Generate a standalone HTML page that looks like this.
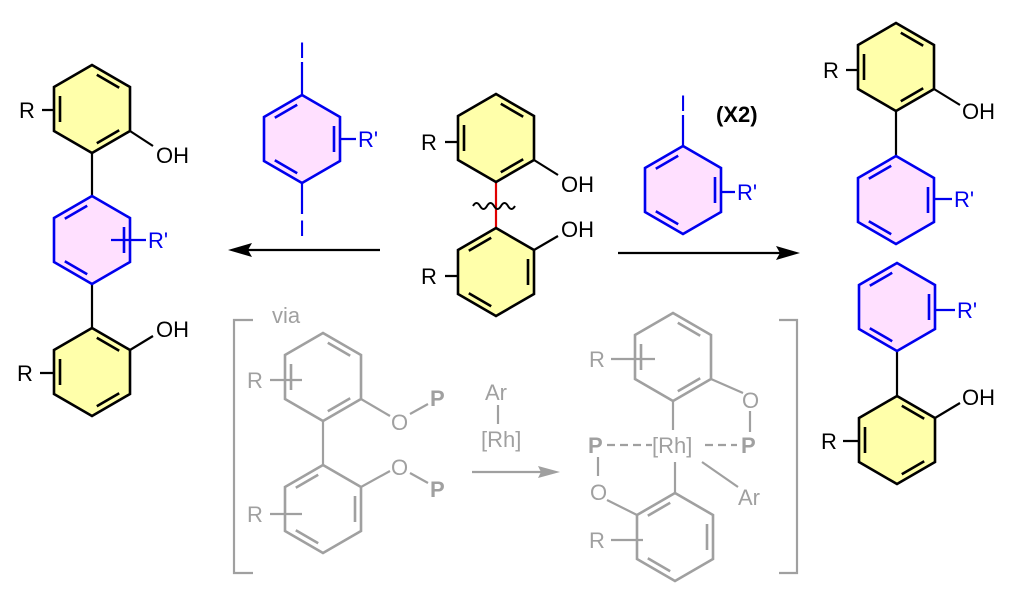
<!DOCTYPE html>
<html><head><meta charset="utf-8"><style>
html,body{margin:0;padding:0;background:#fff;}
svg{display:block;}
text{font-family:"Liberation Sans",sans-serif;font-size:22px;}
</style></head><body>
<svg width="1024" height="605" viewBox="0 0 1024 605" xmlns="http://www.w3.org/2000/svg">
<defs>
<path id="hex" d="M0,-44 L38,-22 L38,22 L0,44 L-38,22 L-38,-22Z"/>
<path id="inA" d="M4.8,-34.2 L27.2,-21.3 M27.2,21.3 L4.8,34.2 M-32,13 L-32,-13" fill="none"/>
<path id="inB" d="M32,-13 L32,13 M-4.8,34.2 L-27.2,21.3 M-27.2,-21.3 L-4.8,-34.2" fill="none"/>
<g id="yA"><use href="#hex" fill="#ffffaa" stroke="#000" stroke-width="2.6"/><use href="#inA" stroke="#000" stroke-width="2.6"/></g>
<g id="yB"><use href="#hex" fill="#ffffaa" stroke="#000" stroke-width="2.6"/><use href="#inB" stroke="#000" stroke-width="2.6"/></g>
<g id="bB"><use href="#hex" fill="#ffe0ff" stroke="#0000ee" stroke-width="2.6"/><use href="#inB" stroke="#0000ee" stroke-width="2.6"/></g>
<g id="gA"><use href="#hex" fill="none" stroke="#a0a0a0" stroke-width="2.6"/><use href="#inA" stroke="#a0a0a0" stroke-width="2.6"/></g>
<g id="gB"><use href="#hex" fill="none" stroke="#a0a0a0" stroke-width="2.6"/><use href="#inB" stroke="#a0a0a0" stroke-width="2.6"/></g>
</defs>

<!-- Left product -->
<g stroke="#000" stroke-width="2.2">
<line x1="92" y1="153" x2="92" y2="196"/><line x1="92" y1="284" x2="92" y2="328"/>
<line x1="130" y1="131" x2="153" y2="146"/><line x1="130" y1="350" x2="153" y2="336"/>
<line x1="42" y1="110" x2="73" y2="110"/><line x1="40" y1="373" x2="71" y2="373"/>
</g>
<use href="#yA" x="92" y="109"/>
<use href="#bB" x="92" y="240"/>
<use href="#yA" x="92" y="372"/>
<line x1="111" y1="240" x2="146" y2="240" stroke="#0000ee" stroke-width="2.2"/>
<text x="19" y="118">R</text><text x="17" y="381">R</text>
<text x="156" y="163">OH</text><text x="156" y="337">OH</text>
<text x="148" y="248" fill="#0000ee">R'</text>

<!-- diiodo reagent -->
<g stroke="#0000ee" stroke-width="2.2">
<line x1="302" y1="62" x2="302" y2="95"/><line x1="302" y1="183" x2="302" y2="214"/>
<line x1="321" y1="139" x2="356" y2="139"/>
</g>
<use href="#bB" x="302" y="139"/>
<text x="302" y="58" fill="#0000ee" text-anchor="middle">I</text>
<text x="302" y="236" fill="#0000ee" text-anchor="middle">I</text>
<text x="358" y="147" fill="#0000ee">R'</text>

<!-- arrows -->
<line x1="380" y1="250" x2="240" y2="250" stroke="#000" stroke-width="2.2"/>
<path d="M228,250 L252,243 L248,250 L252,257Z" fill="#000"/>
<line x1="618" y1="253" x2="790" y2="253" stroke="#000" stroke-width="2.2"/>
<path d="M800,253 L776,246 L780,253 L776,260Z" fill="#000"/>

<!-- middle starting material -->
<g stroke="#000" stroke-width="2.2">
<line x1="534" y1="160" x2="558" y2="175"/><line x1="534" y1="250" x2="558" y2="236"/>
<line x1="445" y1="142" x2="477" y2="142"/><line x1="445" y1="276" x2="477" y2="276"/>
</g>
<line x1="496" y1="182" x2="496" y2="228" stroke="#e00000" stroke-width="2.2"/>
<path d="M473,206 q3.5,-6 7,0 t7,0 t7,0 t7,0 t7,0 t7,0" fill="none" stroke="#000" stroke-width="2"/>
<use href="#yA" x="496" y="138"/>
<use href="#yB" x="496" y="272"/>
<text x="421" y="150">R</text><text x="421" y="284">R</text>
<text x="561" y="192">OH</text><text x="561" y="237">OH</text>

<!-- mono iodo reagent -->
<g stroke="#0000ee" stroke-width="2.2">
<line x1="683" y1="115" x2="683" y2="146"/><line x1="702" y1="192" x2="735" y2="192"/>
</g>
<use href="#bB" x="683" y="190"/>
<text x="683" y="111" fill="#0000ee" text-anchor="middle">I</text>
<text x="737" y="200" fill="#0000ee">R'</text>
<text x="716" y="122" font-weight="bold">(X2)</text>

<!-- right products -->
<g stroke="#000" stroke-width="2.2">
<line x1="896" y1="111" x2="896" y2="156"/><line x1="897" y1="351" x2="897" y2="396"/>
<line x1="934" y1="89" x2="960" y2="105"/><line x1="935" y1="418" x2="960" y2="403"/>
<line x1="846" y1="70" x2="878" y2="70"/><line x1="843" y1="441" x2="875" y2="441"/>
</g>
<g stroke="#0000ee" stroke-width="2.2">
<line x1="915" y1="199" x2="952" y2="199"/><line x1="917" y1="310" x2="955" y2="310"/>
</g>
<use href="#yA" x="896" y="67"/>
<use href="#bB" x="896" y="200"/>
<use href="#bB" x="897" y="307"/>
<use href="#yA" x="897" y="440"/>
<text x="823" y="78">R</text><text x="821" y="449">R</text>
<text x="962" y="119">OH</text><text x="962" y="405">OH</text>
<text x="954" y="207" fill="#0000ee">R'</text><text x="957" y="318" fill="#0000ee">R'</text>

<!-- brackets -->
<g stroke="#a0a0a0" stroke-width="2.2" fill="none">
<path d="M253,320 L234,320 L234,573 L253,573"/>
<path d="M779,320 L797,320 L797,573 L779,573"/>
</g>
<text x="272" y="323" fill="#a0a0a0" font-size="24">via</text>

<!-- gray left intermediate -->
<g stroke="#a0a0a0" stroke-width="2.2">
<line x1="323" y1="421" x2="323" y2="465"/>
<line x1="361" y1="399" x2="390" y2="416"/><line x1="410" y1="414" x2="428" y2="404"/>
<line x1="361" y1="487" x2="390" y2="471"/><line x1="410" y1="473" x2="428" y2="483"/>
<line x1="270" y1="380" x2="302" y2="380"/><line x1="270" y1="514" x2="302" y2="514"/>
<line x1="498" y1="405" x2="498" y2="424"/>
<line x1="472" y1="472" x2="548" y2="472"/>
</g>
<path d="M560,472 L538,466 L541,472 L538,478Z" fill="#a0a0a0"/>
<use href="#gA" x="323" y="377"/>
<use href="#gB" x="323" y="509"/>
<g fill="#a0a0a0">
<text x="247" y="388">R</text><text x="247" y="522">R</text>
<text x="391" y="430">O</text><text x="391" y="475">O</text>
<text x="430" y="406" font-weight="bold">P</text><text x="430" y="497" font-weight="bold">P</text>
<text x="485" y="400">Ar</text><text x="481" y="447">[Rh]</text>
</g>

<!-- gray right intermediate -->
<g stroke="#a0a0a0" stroke-width="2.2">
<line x1="673" y1="401" x2="673" y2="430"/>
<line x1="675" y1="462" x2="675" y2="493"/>
<line x1="711" y1="379" x2="743" y2="393"/>
<line x1="750" y1="411" x2="750" y2="432"/>
<line x1="598" y1="457" x2="598" y2="476"/>
<line x1="607" y1="500" x2="637" y2="515"/>
<line x1="702" y1="462" x2="738" y2="487"/>
<line x1="611" y1="540" x2="643" y2="540"/>
<line x1="611" y1="359" x2="655" y2="359"/>
<line x1="607" y1="445" x2="652" y2="445" stroke-dasharray="8,5"/>
<line x1="705" y1="445" x2="737" y2="445" stroke-dasharray="8,5"/>
</g>
<use href="#gA" x="673" y="357"/>
<use href="#gB" x="675" y="537"/>
<g fill="#a0a0a0">
<text x="589" y="367">R</text><text x="589" y="548">R</text>
<text x="652" y="453">[Rh]</text>
<text x="588" y="453" font-weight="bold">P</text><text x="741" y="453" font-weight="bold">P</text>
<text x="742" y="408">O</text><text x="590" y="500">O</text>
<text x="738" y="505">Ar</text>
</g>
</svg>
</body></html>
